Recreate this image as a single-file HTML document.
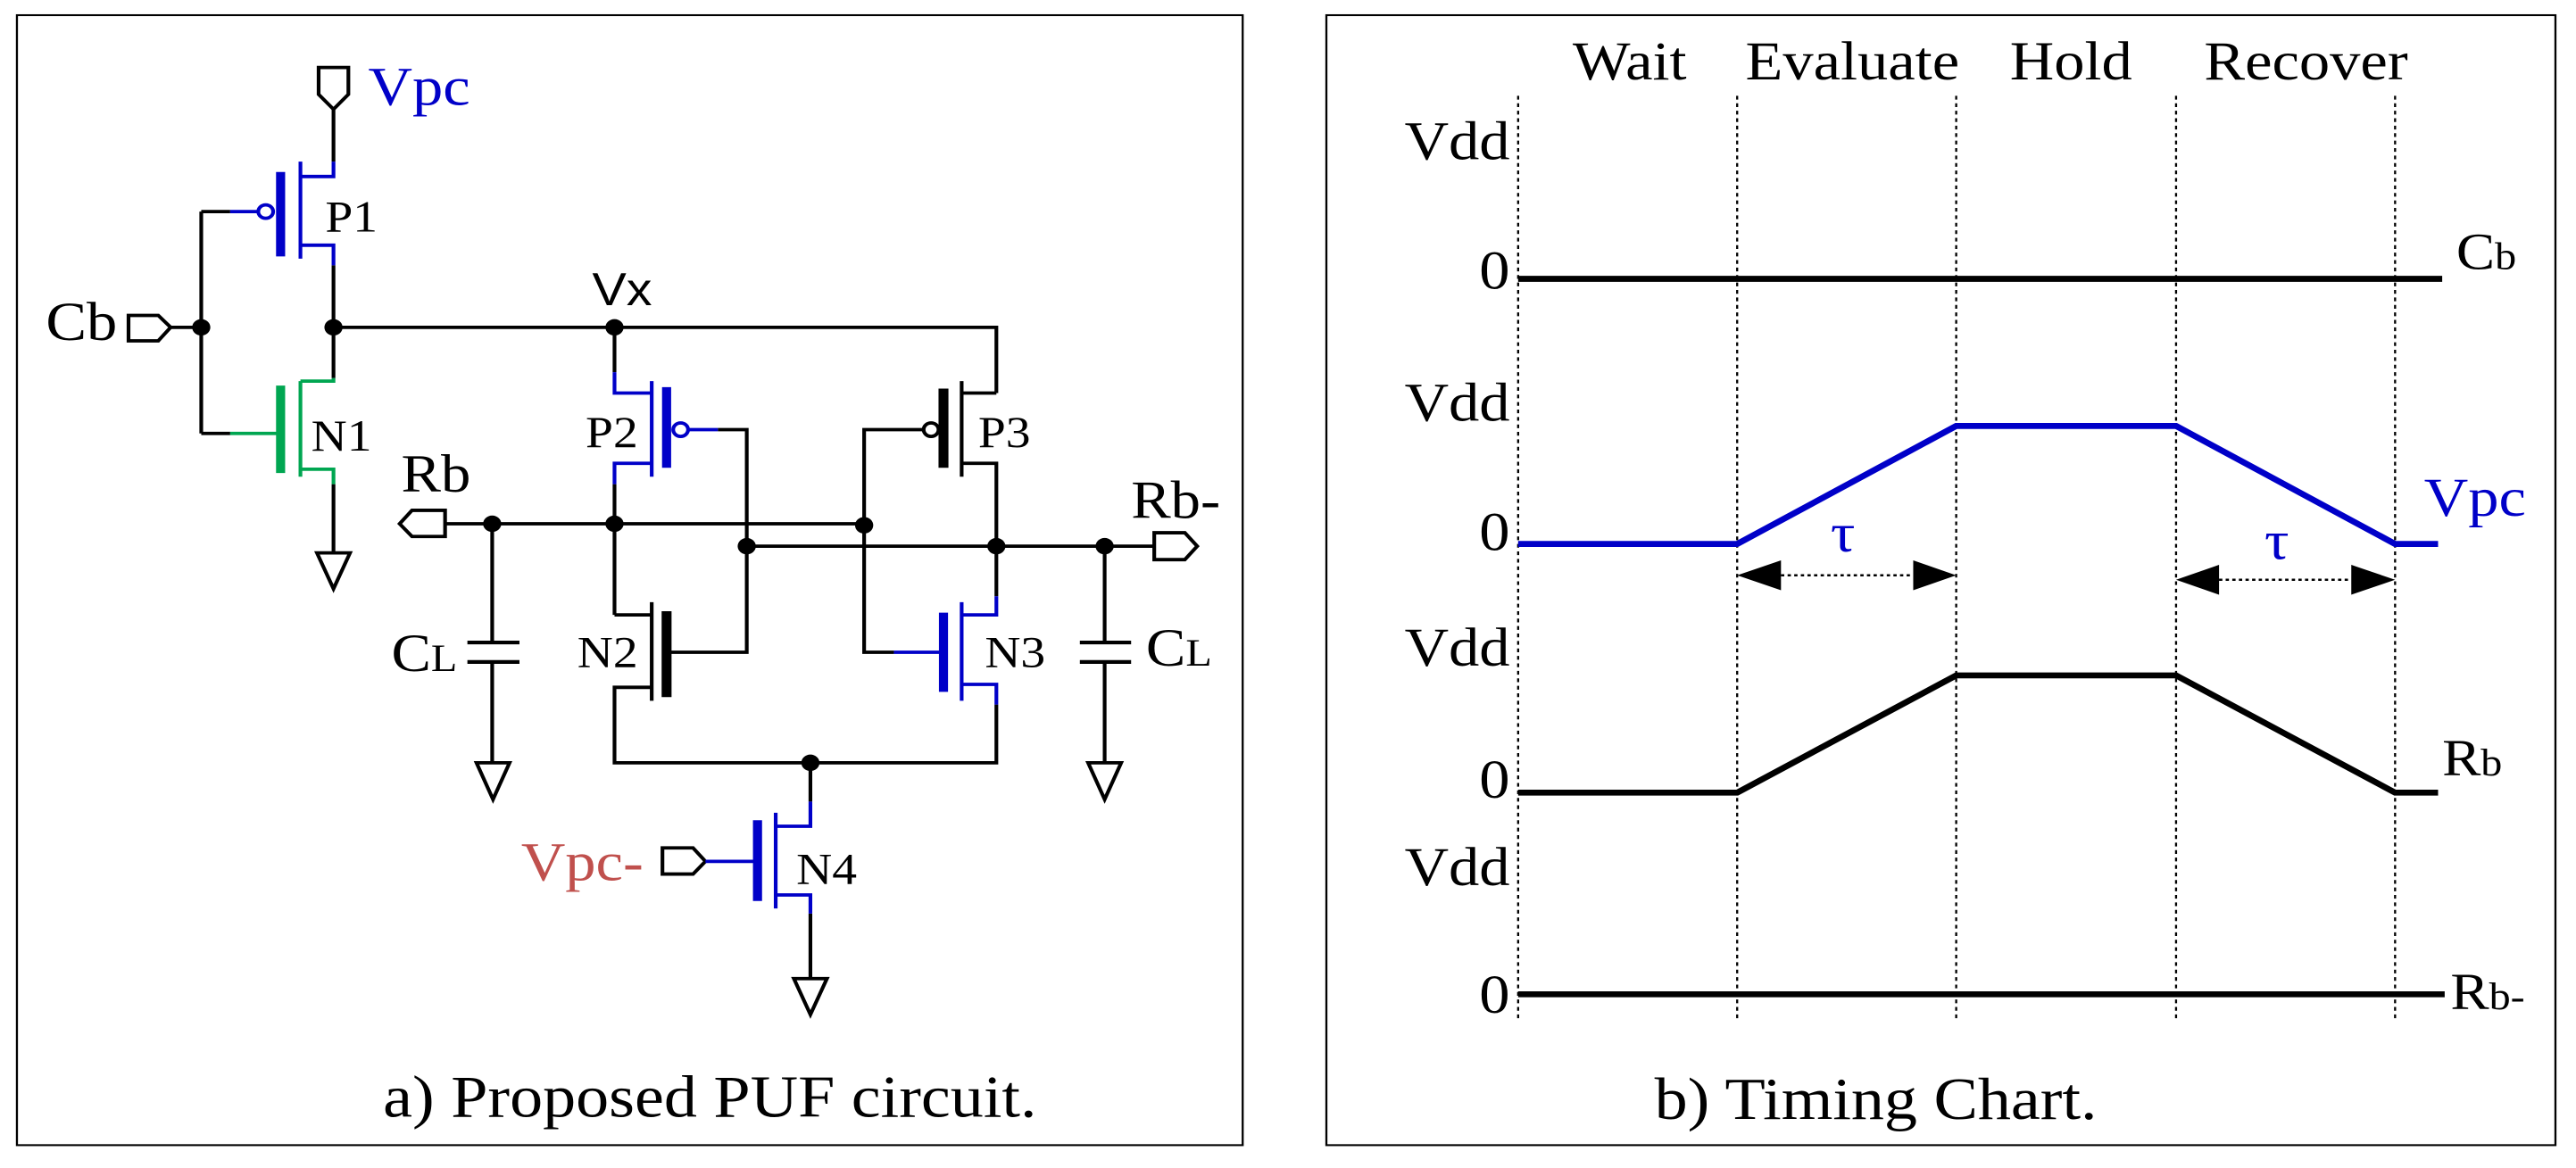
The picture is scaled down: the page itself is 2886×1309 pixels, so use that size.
<!DOCTYPE html>
<html><head><meta charset="utf-8"><style>html,body{margin:0;padding:0;background:#fff}svg{display:block}text{font-family:"Liberation Serif",serif}</style></head>
<body>
<svg width="2886" height="1309" viewBox="0 0 2886 1309" xmlns="http://www.w3.org/2000/svg">
<g transform="translate(-1.4,-1.4) scale(0.926,0.837)" stroke-linecap="butt" fill="none">
<rect x="22" y="22" width="1483" height="1513" stroke="#000" stroke-width="2.5"/>
<g stroke="#000" stroke-width="4.5">
<polygon points="387,92 423,92 423,128 405,148 387,128" fill="#fff"/>
<line x1="405" y1="148" x2="405" y2="218"/>
<line x1="405" y1="357" x2="405" y2="508"/>
<line x1="245" y1="285" x2="280" y2="285"/>
<line x1="245" y1="285" x2="245" y2="582"/>
<line x1="245" y1="582" x2="280" y2="582"/>
<polygon points="157,424 193,424 208,440 193,458 157,458" fill="#fff"/>
<line x1="208" y1="440" x2="245" y2="440"/>
<polyline points="405,440 1207,440 1207,528"/>
<line x1="405" y1="650" x2="405" y2="740"/>
<polygon points="385,742 425,742 405,790" fill="#fff"/>
<line x1="745" y1="440" x2="745" y2="500"/>
<polyline points="870,577 905,577 905,733"/>
<line x1="745" y1="650" x2="745" y2="825"/>
<polygon points="485,703 500,685 540,685 540,720 500,720" fill="#fff"/>
<line x1="540" y1="703" x2="1047" y2="703"/>
<line x1="905" y1="733" x2="1398" y2="733"/>
<polygon points="1398,715 1435,715 1450,733 1435,751 1398,751" fill="#fff"/>
<polyline points="1165,528 1207,528"/>
<line x1="1165" y1="512" x2="1165" y2="640"/>
<line x1="1143" y1="522" x2="1143" y2="628" stroke-width="12"/>
<circle cx="1128" cy="577" r="9" fill="#fff"/>
<polyline points="1119,577 1047,577 1047,875 1083,875"/>
<polyline points="1165,622 1207,622 1207,800"/>
<polyline points="745,825 790,825"/>
<line x1="790" y1="808" x2="790" y2="940"/>
<line x1="808" y1="820" x2="808" y2="935" stroke-width="12"/>
<polyline points="808,875 905,875 905,733"/>
<polyline points="790,922 745,922 745,1023 1207,1023 1207,945"/>
<line x1="982" y1="1023" x2="982" y2="1075"/>
<polygon points="803,1137 840,1137 855,1155 840,1172 803,1172" fill="#fff"/>
<line x1="982" y1="1225" x2="982" y2="1310"/>
<polygon points="962,1312 1002,1312 982,1360" fill="#fff"/>
<line x1="597" y1="703" x2="597" y2="862"/>
<line x1="567" y1="862" x2="630" y2="862" stroke-width="5"/>
<line x1="567" y1="888" x2="630" y2="888" stroke-width="5"/>
<line x1="597" y1="888" x2="597" y2="1023"/>
<polygon points="578,1023 618,1023 598,1072" fill="#fff"/>
<line x1="1338" y1="733" x2="1338" y2="862"/>
<line x1="1308" y1="862" x2="1370" y2="862" stroke-width="5"/>
<line x1="1308" y1="888" x2="1370" y2="888" stroke-width="5"/>
<line x1="1338" y1="888" x2="1338" y2="1023"/>
<polygon points="1318,1023 1358,1023 1338,1072" fill="#fff"/>
</g>
<g stroke="#0000c8" stroke-width="4.5">
<polyline points="405,218 405,238 365,238"/>
<line x1="365" y1="218" x2="365" y2="348"/>
<line x1="341" y1="232" x2="341" y2="345" stroke-width="11"/>
<polyline points="365,330 405,330 405,357"/>
<circle cx="323" cy="285" r="9" fill="#fff"/>
<line x1="280" y1="285" x2="314" y2="285"/>
<polyline points="745,500 745,528 790,528"/>
<line x1="790" y1="512" x2="790" y2="640"/>
<line x1="808" y1="520" x2="808" y2="628" stroke-width="11"/>
<circle cx="825" cy="577" r="9" fill="#fff"/>
<line x1="834" y1="577" x2="870" y2="577"/>
<polyline points="790,622 745,622 745,650"/>
<polyline points="1207,800 1207,825 1165,825"/>
<line x1="1165" y1="808" x2="1165" y2="940"/>
<line x1="1143" y1="822" x2="1143" y2="928" stroke-width="11"/>
<line x1="1083" y1="875" x2="1143" y2="875"/>
<polyline points="1165,918 1207,918 1207,945"/>
<polyline points="982,1075 982,1108 940,1108"/>
<line x1="940" y1="1090" x2="940" y2="1218"/>
<line x1="918" y1="1100" x2="918" y2="1208" stroke-width="11"/>
<line x1="855" y1="1155" x2="918" y2="1155"/>
<polyline points="940,1200 982,1200 982,1225"/>
</g>
<g stroke="#00a651" stroke-width="4.5">
<polyline points="405,508 405,512 365,512"/>
<line x1="365" y1="512" x2="365" y2="640"/>
<line x1="341" y1="518" x2="341" y2="635" stroke-width="11"/>
<line x1="280" y1="582" x2="341" y2="582"/>
<polyline points="365,630 405,630 405,650"/>
</g>
<g fill="#000">
<circle cx="245" cy="440" r="11"/><circle cx="405" cy="440" r="11"/><circle cx="745" cy="440" r="11"/>
<circle cx="597" cy="703" r="11"/><circle cx="745" cy="703" r="11"/><circle cx="1047" cy="705" r="11"/>
<circle cx="905" cy="733" r="11"/><circle cx="1207" cy="733" r="11"/><circle cx="1338" cy="733" r="11"/>
<circle cx="982" cy="1023" r="11"/>
</g>
<g fill="#000" stroke="none" font-size="60">
<text x="447" y="142" font-size="74" fill="#0000c8">Vpc</text>
<text x="395" y="312">P1</text>
<text x="57" y="457" font-size="74">Cb</text>
<text x="378" y="605">N1</text>
<text x="718" y="410" font-size="62" style="font-family:'Liberation Sans',sans-serif">Vx</text>
<text x="710" y="600">P2</text>
<text x="1185" y="600">P3</text>
<text x="487" y="660" font-size="72">Rb</text>
<text x="1370" y="695" font-size="72">Rb-</text>
<text x="475" y="900" font-size="72">C<tspan font-size="52">L</tspan></text>
<text x="700" y="895">N2</text>
<text x="1193" y="895">N3</text>
<text x="1388" y="893" font-size="72">C<tspan font-size="52">L</tspan></text>
<text x="632" y="1180" font-size="74" fill="#c0504d">Vpc-</text>
<text x="965" y="1185">N4</text>
<text x="465" y="1497" font-size="80">a) Proposed PUF circuit.</text>
</g>
</g>

<g transform="translate(1439.7,-1.4) scale(0.926,0.837)" fill="none">
<rect x="50" y="22" width="1487" height="1513" stroke="#000" stroke-width="2.5"/>
<g stroke="#000" stroke-width="2.5" stroke-dasharray="5,5">
<line x1="282" y1="130" x2="282" y2="1365"/>
<line x1="547" y1="130" x2="547" y2="1365"/>
<line x1="812" y1="130" x2="812" y2="1365"/>
<line x1="1078" y1="130" x2="1078" y2="1365"/>
<line x1="1343" y1="130" x2="1343" y2="1365"/>
</g>
<g stroke-width="8" stroke-linejoin="miter">
<line x1="282" y1="375" x2="1400" y2="375" stroke="#000"/>
<polyline points="282,730 547,730 812,572 1078,572 1343,730 1395,730" stroke="#0000c8"/>
<polyline points="282,1063 547,1063 812,906 1078,906 1343,1063 1395,1063" stroke="#000"/>
<line x1="282" y1="1333" x2="1403" y2="1333" stroke="#000"/>
</g>
<g stroke="#000" stroke-width="3" stroke-dasharray="4,4">
<line x1="600" y1="772" x2="760" y2="772"/>
<line x1="1130" y1="778" x2="1290" y2="778"/>
</g>
<g fill="#000">
<polygon points="547,772 600,752 600,792"/><polygon points="812,772 760,752 760,792"/>
<polygon points="1078,778 1130,758 1130,798"/><polygon points="1343,778 1290,758 1290,798"/>
</g>
<g fill="#000" font-size="74">
<text x="348" y="108">Wait</text>
<text x="557" y="108">Evaluate</text>
<text x="877" y="108">Hold</text>
<text x="1112" y="108">Recover</text>
<g text-anchor="end">
<text x="272" y="215">Vdd</text><text x="272" y="565">Vdd</text><text x="272" y="893">Vdd</text><text x="272" y="1187">Vdd</text>
<text x="272" y="388">0</text><text x="272" y="738">0</text><text x="272" y="1070">0</text><text x="272" y="1358">0</text>
</g>
<text x="1417" y="362" font-size="70">C<tspan font-size="52">b</tspan></text>
<text x="1378" y="692" fill="#0000c8">Vpc</text>
<text x="660" y="740" fill="#0000c8">τ</text>
<text x="1185" y="750" fill="#0000c8">τ</text>
<text x="1400" y="1040" font-size="70">R<tspan font-size="52">b</tspan></text>
<text x="1410" y="1353" font-size="70">R<tspan font-size="52">b-</tspan></text>
<text x="447" y="1500" font-size="80">b) Timing Chart.</text>
</g>
</g>
</svg>
</body></html>
